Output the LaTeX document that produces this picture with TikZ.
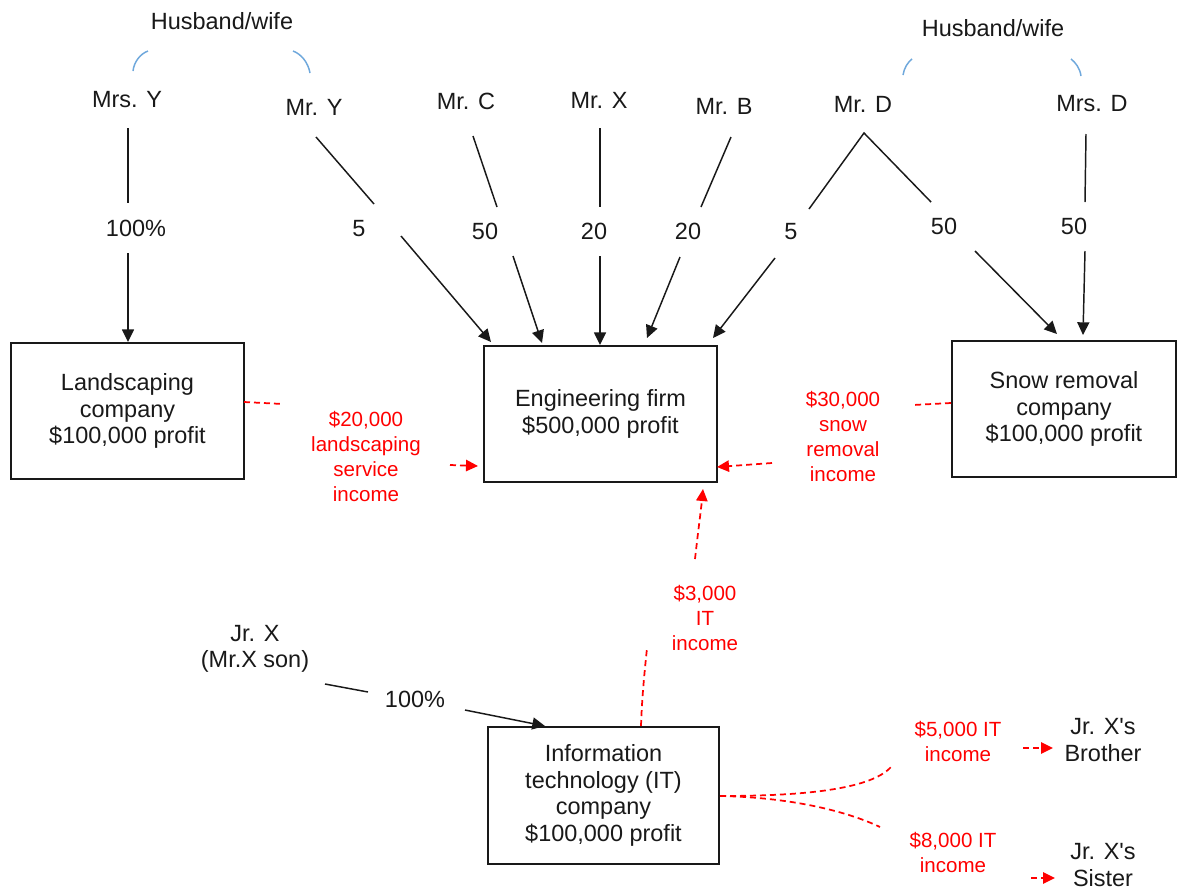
\documentclass[tikz,border=0pt]{standalone}
\usepackage{fontspec}
\setmainfont{Liberation Sans}
\usetikzlibrary{arrows.meta}
\definecolor{hwblue}{RGB}{111,168,220}
\definecolor{ink}{RGB}{25,25,25}
\begin{document}
\begin{tikzpicture}[x=0.75pt,y=-0.75pt,
  lbl/.style={font=\fontsize{17.6}{20}\selectfont, text=ink, inner sep=0pt, align=center},
  rlbl/.style={font=\fontsize{15.4}{18.75}\selectfont, text=red, inner sep=0pt, align=center},
  box/.style={draw=ink, line width=1.3pt, lbl},
  conn/.style={draw=ink, line width=1.1pt},
  arr/.style={conn, -{Triangle[length=9.5pt,width=9pt]}},
  rdash/.style={draw=red, line width=1.3pt, dash pattern=on 4.5pt off 3pt},
  rarr/.style={rdash, -{Triangle[length=9pt,width=8.5pt]}},
  hw/.style={draw=hwblue, line width=1.1pt}
]
\useasboundingbox (0,0) rectangle (1179,890);
\fill[white] (0,0) rectangle (1179,890);

% people and labels
\node[lbl] (hwL) at (222,21) {Husband/wife};
\node[lbl] (hwR) at (993,28) {Husband/wife};
\node[lbl] (MrsY) at (127,100) {Mrs. Y};
\node[lbl] (MrY) at (314,107) {Mr. Y};
\node[lbl] (MrC) at (466,101) {Mr. C};
\node[lbl] (MrX) at (599,100) {Mr. X};
\node[lbl] (MrB) at (724,106) {Mr. B};
\node[lbl] (MrD) at (863,104) {Mr. D};
\node[lbl] (MrsD) at (1092,104) {Mrs. D};

% husband/wife arcs
\draw[hw] (133,71) .. controls (134,62) and (140,54) .. (148,51);
\draw[hw] (293,51) .. controls (301,54) and (308,62) .. (310,73);
\draw[hw] (903,75) .. controls (904,68) and (908,62) .. (912,59);
\draw[hw] (1071,59) .. controls (1075,62) and (1080,68) .. (1081,76);

% percentages
\node[lbl] (pMrsY) at (136,228) {100\%};
\node[lbl] (pMrY) at (359,229) {5};
\node[lbl] (pMrC) at (485,231) {50};
\node[lbl] (pMrX) at (594,231) {20};
\node[lbl] (pMrB) at (688,231) {20};
\node[lbl] (pMrDe) at (791,232) {5};
\node[lbl] (pMrDs) at (944,226) {50};
\node[lbl] (pMrsD) at (1074,226) {50};

% boxes
\node[box, minimum width=174.75pt, minimum height=102pt] (land) at (127.5,411) {Landscaping\\company\\\$100,000 profit};
\node[box, minimum width=174.75pt, minimum height=102pt] (eng) at (600.5,414) {Engineering firm\\\$500,000 profit};
\node[box, minimum width=168pt, minimum height=102pt] (snow) at (1064,409) {Snow removal\\company\\\$100,000 profit};
\node[box, minimum width=173.25pt, minimum height=102.75pt] (it) at (603.5,795.5) {Information\\technology (IT)\\company\\\$100,000 profit};

% other labels
\node[rlbl] (rLand) at (366,456) {\$20,000\\landscaping\\service\\income};
\node[rlbl] (rSnow) at (843,436) {\$30,000\\snow\\removal\\income};
\node[rlbl] (rIT) at (705,618) {\$3,000\\IT\\income};
\node[rlbl] (r5) at (958,741) {\$5,000 IT\\income};
\node[rlbl] (r8) at (953,852) {\$8,000 IT\\income};
\node[lbl] (bro) at (1103,740) {Jr. X\textquotesingle s\\Brother};
\node[lbl] (sis) at (1103,865) {Jr. X\textquotesingle s\\Sister};
\node[lbl] (JrX) at (255,649) {Jr. X\\(Mr.X son)};
\node[lbl] (pJrX) at (415,699) {100\%};

% coordinates of connector ends
\coordinate (a1) at (128,128); \coordinate (a2) at (128,203);
\coordinate (a3) at (128,253); \coordinate (a4) at (128,342);
\coordinate (b1) at (316,137); \coordinate (b2) at (374,204);
\coordinate (b3) at (401,236); \coordinate (b4) at (491,342);
\coordinate (c1) at (473,136); \coordinate (c2) at (497,207);
\coordinate (c3) at (513,256); \coordinate (c4) at (542,343);
\coordinate (x1) at (600,128); \coordinate (x2) at (600,207);
\coordinate (x3) at (600,256); \coordinate (x4) at (600,345);
\coordinate (e1) at (731,137); \coordinate (e2) at (701,207);
\coordinate (e3) at (680,257); \coordinate (e4) at (647,338);
\coordinate (d0) at (864,133);
\coordinate (d1) at (809,209); \coordinate (d2) at (931,202);
\coordinate (d3) at (775,258); \coordinate (d4) at (713,338);
\coordinate (d5) at (975,251); \coordinate (d6) at (1057,334);
\coordinate (f1) at (1086,134); \coordinate (f2) at (1085,202);
\coordinate (f3) at (1085,251); \coordinate (f4) at (1083,335);
\coordinate (j1) at (325,684); \coordinate (j2) at (368,692);
\coordinate (j3) at (465,710); \coordinate (j4) at (545,726);

% ownership connectors
\draw[conn] (a1) -- (a2); \draw[arr] (a3) -- (a4);
\draw[conn] (b1) -- (b2); \draw[arr] (b3) -- (b4);
\draw[conn] (c1) -- (c2); \draw[arr] (c3) -- (c4);
\draw[conn] (x1) -- (x2); \draw[arr] (x3) -- (x4);
\draw[conn] (e1) -- (e2); \draw[arr] (e3) -- (e4);
\draw[conn] (d1) -- (d0) -- (d2);
\draw[arr] (d3) -- (d4); \draw[arr] (d5) -- (d6);
\draw[conn] (f1) -- (f2); \draw[arr] (f3) -- (f4);
\draw[conn] (j1) -- (j2); \draw[arr] (j3) -- (j4);

% income flows
\coordinate (l1) at (244,402); \coordinate (l2) at (283,404);
\coordinate (l3) at (450,465); \coordinate (l4) at (478,466);
\coordinate (s1) at (951,403); \coordinate (s2) at (913,405);
\coordinate (s3) at (772,463); \coordinate (s4) at (717,467);
\coordinate (i1) at (641,726); \coordinate (i2) at (647,648);
\coordinate (i3) at (695,559); \coordinate (i4) at (703,489);
\coordinate (t0) at (720,796);
\coordinate (t1) at (891,767); \coordinate (t2) at (880,827);
\coordinate (t3) at (1023,748); \coordinate (t4) at (1053,748);
\coordinate (t5) at (1031,878); \coordinate (t6) at (1055,878);

\draw[rdash] (l1) -- (l2); \draw[rarr] (l3) -- (l4);
\draw[rdash] (s1) -- (s2); \draw[rarr] (s3) -- (s4);
\draw[rdash] (i1) .. controls (642,695) and (645,668) .. (i2);
\draw[rarr] (i3) .. controls (698,532) and (701,510) .. (i4);
\draw[rdash] (t0) .. controls (800,796) and (870,790) .. (t1);
\draw[rdash] (t0) .. controls (780,797) and (840,808) .. (t2);
\draw[rarr] (t3) -- (t4);
\draw[rarr] (t5) -- (t6);
\end{tikzpicture}
\end{document}
